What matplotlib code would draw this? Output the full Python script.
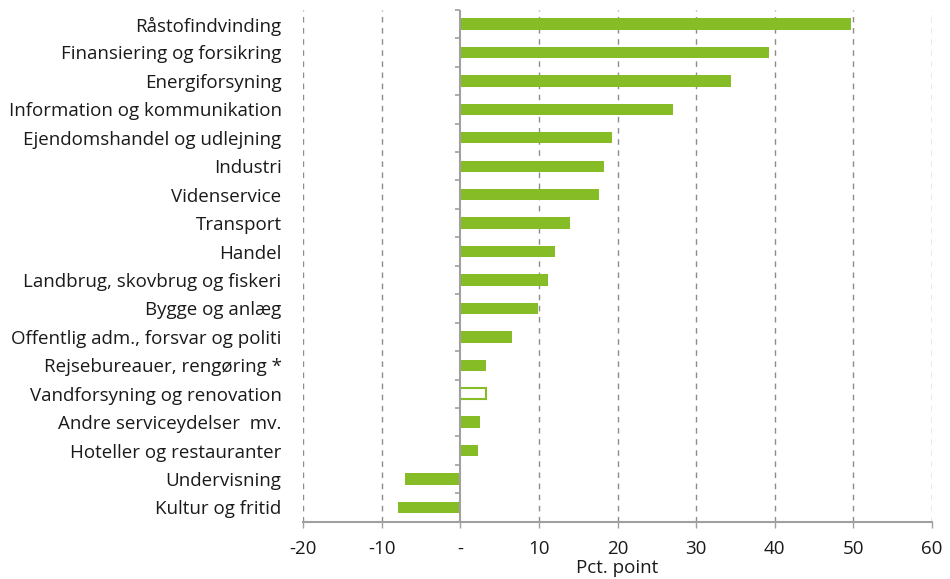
import matplotlib
matplotlib.use("Agg")
import matplotlib.pyplot as plt
import numpy as np

categories = ["Råstofindvinding", "Finansiering og forsikring", "Energiforsyning",
              "Information og kommunikation", "Ejendomshandel og udlejning", "Industri",
              "Videnservice", "Transport", "Handel", "Landbrug, skovbrug og fiskeri",
              "Bygge og anlæg", "Offentlig adm., forsvar og politi", "Rejsebureauer, rengøring *",
              "Vandforsyning og renovation", "Andre serviceydelser  mv.", "Hoteller og restauranter",
              "Undervisning", "Kultur og fritid"]
values = [49.7, 39.3, 34.4, 27.1, 19.3, 18.3, 17.6, 14.0, 12.1, 11.2, 9.9, 6.6, 3.3, 3.3, 2.5, 2.2, -7.0, -7.9]
hollow = [False]*13 + [True] + [False]*4
xticks = [-20, -10, 0, 10, 20, 30, 40, 50, 60]
xticklabels = ["-20", "-10", "-", "10", "20", "30", "40", "50", "60"]

plt.rcParams['font.family'] = ['Open Sans', 'DejaVu Sans']
green = "#86BC25"
grey = "#A0A0A0"
txt = "#1a1a1a"
fs = 13.5

fig = plt.figure(figsize=(9.5, 5.79), dpi=100)
ax = fig.add_axes([0.319, 0.099, 0.662, 0.884])

n = len(categories)
y = np.arange(n)
for yi, v, h in zip(y, values, hollow):
    if h:
        ax.barh(yi, v, height=0.4, color="white", edgecolor=green, linewidth=1.5, zorder=3)
    else:
        ax.barh(yi, v, height=0.4, color=green, edgecolor="none", zorder=3)

ax.set_xlim(-20, 60)
ax.set_ylim(n - 0.5, -0.5)
ax.set_yticks(y)
ax.set_yticklabels(categories, fontsize=fs, color=txt)
ax.tick_params(axis='y', length=0, pad=15.5)
ax.set_xticks(xticks)
ax.set_xticklabels(xticklabels, fontsize=fs, color=txt)
ax.tick_params(axis='x', length=4, color=grey, width=1, pad=9)

for x in xticks:
    if x != 0:
        ax.axvline(x, color="#8c8c8c", linestyle=(0, (4, 4)), linewidth=1, zorder=1)
ax.axvline(0, color=grey, linewidth=1.5, zorder=4)
bounds = np.arange(n + 1) - 0.5
ax.hlines(bounds[:-1], -0.7, 0, color=grey, linewidth=1.2, zorder=4, clip_on=False)

for s in ["top", "right", "left"]:
    ax.spines[s].set_visible(False)
ax.spines["bottom"].set_color(grey)
ax.spines["bottom"].set_linewidth(1.5)

ax.set_xlabel("Pct. point", fontsize=fs, color=txt, labelpad=1)

fig.savefig("out.png", dpi=100)
